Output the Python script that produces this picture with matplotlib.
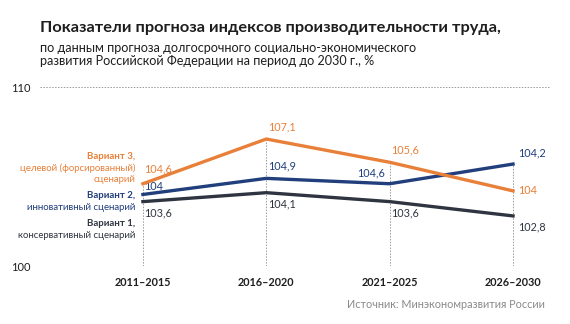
import matplotlib.pyplot as plt
import numpy as np

plt.rcParams['font.family'] = ['Lato', 'DejaVu Sans']

periods = ["2011–2015", "2016–2020", "2021–2025", "2026–2030"]

# values as placed on the chart
v3 = [104.6, 107.1, 105.8, 104.2]
v2 = [104.0, 104.9, 104.6, 105.7]
v1 = [103.6, 104.1, 103.6, 102.8]

# printed labels
lab3 = ["104,6", "107,1", "105,6", "104"]
lab2 = ["104", "104,9", "104,6", "104,2"]
lab1 = ["103,6", "104,1", "103,6", "102,8"]

c3 = "#E8803A"
c2 = "#213F7C"
c1 = "#2F3540"
grid_c = "#9A9A9A"

x = np.arange(len(periods))

fig = plt.figure(figsize=(5.7, 3.24), dpi=100)
ax = fig.add_axes([0.070, 0.179, 0.895, 0.552])
ax.set_xlim(-0.835, 3.30)
ax.set_ylim(100, 110)

ax.axhline(100, color=grid_c, lw=0.7, ls=(0, (1.5, 1.5)), zorder=1)
ax.axhline(110, color=grid_c, lw=0.7, ls=(0, (1.5, 1.5)), zorder=1)
top = np.maximum(np.maximum(v3, v2), v1)
ax.vlines(x, 100, top, color=grid_c, lw=0.7, linestyles=[(0, (1.5, 1.5))], zorder=1)

ax.plot(x, v1, color=c1, lw=2.4, zorder=3, solid_joinstyle="miter")
ax.plot(x, v2, color=c2, lw=2.4, zorder=3, solid_joinstyle="miter")
ax.plot(x, v3, color=c3, lw=2.4, zorder=4, solid_joinstyle="miter")

fs = 7.8
# orange labels
ax.annotate(lab3[0], (x[0], v3[0]), xytext=(1, 7), textcoords="offset points", color=c3, fontsize=fs, ha="left", va="bottom")
ax.annotate(lab3[1], (x[1], v3[1]), xytext=(1, 5), textcoords="offset points", color=c3, fontsize=fs, ha="left", va="bottom")
ax.annotate(lab3[2], (x[2], v3[2]), xytext=(1, 5), textcoords="offset points", color=c3, fontsize=fs, ha="left", va="bottom")
ax.annotate(lab3[3], (x[3], v3[3]), xytext=(4, 0), textcoords="offset points", color=c3, fontsize=fs, ha="left", va="center")
# blue labels
ax.annotate(lab2[0], (x[0], v2[0]), xytext=(1, 2), textcoords="offset points", color=c2, fontsize=fs, ha="left", va="bottom")
ax.annotate(lab2[1], (x[1], v2[1]), xytext=(1, 5), textcoords="offset points", color=c2, fontsize=fs, ha="left", va="bottom")
ax.annotate(lab2[2], (x[2], v2[2]), xytext=(-3, 4), textcoords="offset points", color=c2, fontsize=fs, ha="right", va="bottom")
ax.annotate(lab2[3], (x[3], v2[3]), xytext=(4, 4), textcoords="offset points", color=c2, fontsize=fs, ha="left", va="bottom")
# dark labels
ax.annotate(lab1[0], (x[0], v1[0]), xytext=(1, -4), textcoords="offset points", color=c1, fontsize=fs, ha="left", va="top")
ax.annotate(lab1[1], (x[1], v1[1]), xytext=(1, -4), textcoords="offset points", color=c1, fontsize=fs, ha="left", va="top")
ax.annotate(lab1[2], (x[2], v1[2]), xytext=(1, -4), textcoords="offset points", color=c1, fontsize=fs, ha="left", va="top")
ax.annotate(lab1[3], (x[3], v1[3]), xytext=(4, -4), textcoords="offset points", color=c1, fontsize=fs, ha="left", va="top")

ax.set_xticks(x)
ax.set_xticklabels(periods, fontsize=7.8, fontweight="bold", color="#1E1E1E")
ax.set_yticks([100, 110])
ax.set_yticklabels(["100", "110"], fontsize=8, color="#1E1E1E")
ax.tick_params(length=0, pad=8)
ax.tick_params(axis="y", pad=7)
for s in ax.spines.values():
    s.set_visible(False)

# series names
def side(y, txt, col, bold=False):
    fig.text(135 / 570, 1 - y / 324, txt, color=col, fontsize=6.9, ha="right", va="center",
             fontweight="bold" if bold else "normal")

side(157, "Вариант 3,", c3, True)
side(168.5, "целевой (форсированный)", c3)
side(180, "сценарий", c3)
side(195, "Вариант 2,", c2, True)
side(207, "инновативный сценарий", c2)
side(223, "Вариант 1,", c1, True)
side(235.5, "консервативный сценарий", c1)

fig.text(40 / 570, 1 - 28 / 324, "Показатели прогноза индексов производительности труда,",
         fontsize=11.8, fontweight="bold", color="#1E1E1E", va="center")
fig.text(40 / 570, 1 - 48 / 324, "по данным прогноза долгосрочного социально-экономического",
         fontsize=9.1, color="#1E1E1E", va="center")
fig.text(40 / 570, 1 - 61 / 324, "развития Российской Федерации на период до 2030 г., %",
         fontsize=9.1, color="#1E1E1E", va="center")
fig.text(545 / 570, 1 - 305 / 324, "Источник: Минэкономразвития России",
         fontsize=7.8, color="#8A8A8A", ha="right", va="center")

fig.savefig("out.png", dpi=100)
